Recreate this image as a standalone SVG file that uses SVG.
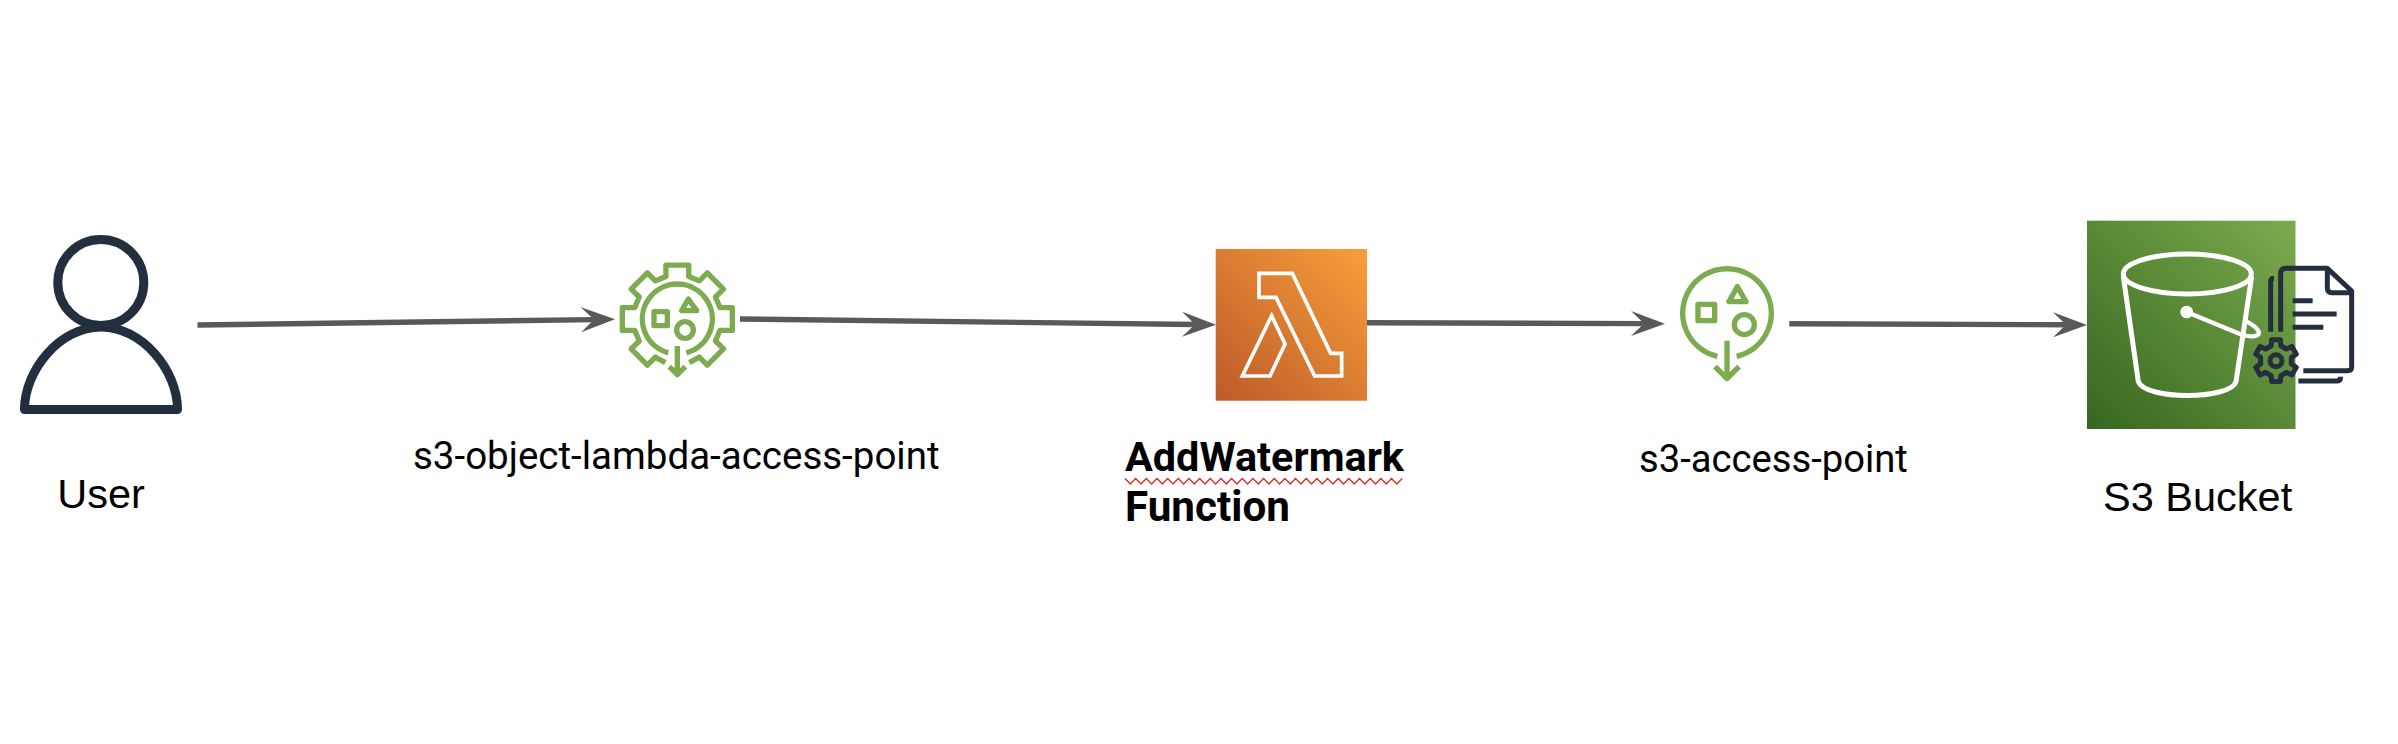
<svg xmlns="http://www.w3.org/2000/svg" width="2398" height="744" viewBox="0 0 2398 744">
<style>
text{font-family:"Liberation Sans",Arial,sans-serif;fill:#000}
.lb{font-size:41.5px}
.r{font-family:Roboto,"Liberation Sans",sans-serif;font-size:38.5px}
.b{font-family:Roboto,"Liberation Sans",sans-serif;font-weight:700;font-size:41.4px}
.cn{fill:none;stroke:#595959;stroke-width:5.4}
.g{fill:none;stroke:#7dab50;stroke-width:16;stroke-linejoin:round}
.w{fill:none;stroke:#fff;stroke-width:11;stroke-linejoin:miter}
.bw{fill:none;stroke:#fff;stroke-width:15;stroke-linejoin:round}
.dk{fill:none;stroke:#232f3e;stroke-width:15;stroke-linejoin:round}
</style>
<defs>
<marker id="ah" markerUnits="userSpaceOnUse" markerWidth="36" markerHeight="26" refX="14" refY="13" orient="auto">
<path d="M0 .5L34 13L0 25.5L13 13Z" fill="#595959"/>
</marker>
<linearGradient id="lg" x1="0" y1="1" x2="1" y2="0"><stop offset="0" stop-color="#bd5a2a"/><stop offset="1" stop-color="#f79f3a"/></linearGradient>
<linearGradient id="sg" x1="0" y1="1" x2="1" y2="0"><stop offset="0" stop-color="#37661f"/><stop offset="1" stop-color="#7cab4f"/></linearGradient>
</defs>
<rect width="2398" height="744" fill="#fff"/>
<g id="connectors">
<path class="cn" marker-end="url(#ah)" d="M197.5 325L595 319.6"/>
<path class="cn" marker-end="url(#ah)" d="M740 319L1196 324.5"/>
<path class="cn" marker-end="url(#ah)" d="M1367 322.7L1645 323.6"/>
<path class="cn" marker-end="url(#ah)" d="M1789.3 323.7L2067 324.8"/>
</g>
<g id="user">
<ellipse cx="100.8" cy="282.5" rx="43" ry="43" fill="none" stroke="#232f3e" stroke-width="9"/>
<path d="M24.5 409.5C24.5 370 60 327 101 327C142 327 177.5 370 177.5 409.5Z" fill="none" stroke="#232f3e" stroke-width="9" stroke-linejoin="round"/>
<text class="lb" x="101" y="508" text-anchor="middle">User</text>
</g>
<g id="s3-object-lambda-access-point">
<g transform="translate(600 250) scale(.33333)">
<path class="g" d="M268 338L298 321.3L321.9 345.4L370.4 296.9L346.3 273L359.5 241.2L397 241.3L397 172.7L359.5 172.8L346.3 141L370.4 117.1L321.9 68.6L298 92.7L266.2 79.5L266.3 45.6L197.7 45.6L197.8 79.5L166 92.7L142.1 68.6L93.6 117.1L117.7 141L104.5 172.8L67 172.7L67 241.3L104.5 241.2L117.7 273L93.6 296.9L142.1 345.4L166 321.3L196 338"/>
<path class="g" d="M205 308.5A105 105 0 1 1 259 308.5"/>
<rect class="g" x="162" y="185" width="40" height="42"/>
<path class="g" d="M265 147L245 182L290 182Z"/>
<circle class="g" cx="255" cy="240" r="25"/>
<path class="g" d="M232 288V372M208 350L232 374L256 350"/>
</g>
<text class="r" x="413" y="469">s3-object-lambda-access-point</text>
</g>
<g id="addwatermark-function">
<rect x="1215.7" y="249" width="151.3" height="151.7" fill="url(#lg)"/>
<g transform="translate(1080 220) scale(.33333)">
<path class="w" d="M537 160H637L752 400H785V468H704L588 232H537Z"/>
<path class="w" d="M487 468L575 287L615 372L570 468Z"/>
</g>
<text class="b" x="1125" y="470.7">AddWatermark</text>
<text class="b" x="1125" y="520.7" style="font-size:42.2px">Function</text>
<path fill="none" stroke="#d93025" stroke-width="1.4" d="M1125 478.5l5.33 5.5l5.33 -5.5l5.33 5.5l5.33 -5.5l5.33 5.5l5.33 -5.5l5.33 5.5l5.33 -5.5l5.33 5.5l5.33 -5.5l5.33 5.5l5.33 -5.5l5.33 5.5l5.33 -5.5l5.33 5.5l5.33 -5.5l5.33 5.5l5.33 -5.5l5.33 5.5l5.33 -5.5l5.33 5.5l5.33 -5.5l5.33 5.5l5.33 -5.5l5.33 5.5l5.33 -5.5l5.33 5.5l5.33 -5.5l5.33 5.5l5.33 -5.5l5.33 5.5l5.33 -5.5l5.33 5.5l5.33 -5.5l5.33 5.5l5.33 -5.5l5.33 5.5l5.33 -5.5l5.33 5.5l5.33 -5.5l5.33 5.5l5.33 -5.5l5.33 5.5l5.33 -5.5l5.33 5.5l5.33 -5.5l5.33 5.5l5.33 -5.5l5.33 5.5l5.33 -5.5l5.33 5.5l5.33 -5.5"/>
</g>
<g id="s3-access-point">
<g transform="translate(1660 250) scale(.33333)">
<g class="g">
<path d="M172 319A133 133 0 1 1 230 319"/>
<rect x="114" y="163" width="50" height="49"/>
<path d="M232 110L207 155L258 155Z"/>
<circle cx="253" cy="224" r="30"/>
<path d="M201 272V385M165 350L201 386L237 350"/>
</g>
</g>
<text class="r" x="1639" y="471.7" style="font-size:38.2px">s3-access-point</text>
</g>
<g id="s3-bucket">
<rect x="2087" y="220.7" width="208.5" height="208.3" fill="url(#sg)"/>
<g transform="translate(2070 210) scale(.33333)">
<ellipse class="bw" cx="352" cy="192" rx="192" ry="60"/>
<path class="bw" d="M160 200L205 515C225 570 480 570 498 515L545 200"/>
<circle cx="350" cy="306" r="19" fill="#fff"/>
<path fill="none" stroke="#fff" stroke-width="13" d="M350 306L510 372C545 385 572 378 566 365C560 350 535 337 525 332"/>
<path class="dk" d="M632 365V190Q632 175 648 175H772L845 243V470Q845 482 832 482H700"/>
<path class="dk" d="M772 175V235Q772 248 785 248H845"/>
<path class="dk" d="M602 365V215Q602 205 612 205M685 513H800Q812 513 812 500"/>
<path class="dk" d="M668 272H728M668 312H800M668 352H760"/>
<path class="dk" d="M603.5 407.3L604.7 389.4H631.3L632.5 407.3L649.4 417.1L665.6 409.2L678.9 432.2L664 442.2V461.8L678.9 471.8L665.6 494.8L649.4 486.9L632.5 496.7L631.3 514.6H604.7L603.5 496.7L586.6 486.9L570.4 494.8L557.1 471.8L572 461.8V442.2L557.1 432.2L570.4 409.2L586.6 417.1Z"/>
<circle class="dk" cx="618" cy="452" r="18"/>
</g>
<text class="lb" x="2103" y="510.7">S3 Bucket</text>
</g>
</svg>
